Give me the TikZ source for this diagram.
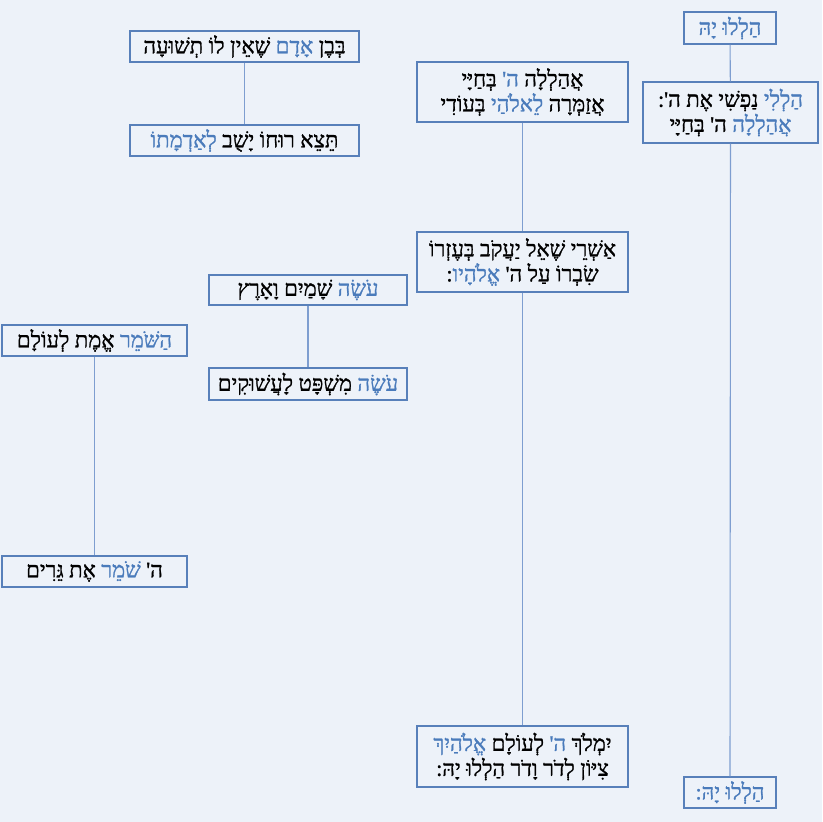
\documentclass[tikz,border=0pt]{standalone}
\usepackage{fontspec}
\newfontfamily\hebfont[Script=Hebrew, FakeBold=1.2]{Liberation Serif}
\newfontfamily\hebblue[Script=Hebrew, FakeBold=1.2, Color=4A7BBB]{Liberation Serif}
\TeXXeTstate=1
\definecolor{bgc}{RGB}{237,242,249}
\definecolor{bordc}{RGB}{88,128,186}
\definecolor{linec}{RGB}{126,158,208}
\newcommand{\hb}[1]{{\hebblue\fontsize{22}{25}\selectfont #1}}
\tikzset{
  vbox/.style={draw=bordc, line width=1.1pt, fill=bgc, inner sep=0pt, align=center,
    font=\hebfont\fontsize{22}{25}\selectfont},
  conn/.style={draw=linec, line width=1.1pt}
}
\begin{document}
\begin{tikzpicture}[x=1pt,y=-1pt]
\fill[bgc] (0,0) rectangle (822,822);
\useasboundingbox (0,0) rectangle (822,822);

\node[vbox, minimum width=92pt, minimum height=32pt] (n1) at (730,28) {\beginR\hb{הַלְלוּ יָהּ}\endR};
\node[vbox, minimum width=175pt, minimum height=61pt] (n2) at (730.5,112.5) {\beginR\hb{הַלְלִי} נַפְשִׁי אֶת ה':\endR\\\beginR\hb{אֲהַלְלָה} ה' בְּחַיָּי\endR};
\node[vbox, minimum width=92pt, minimum height=31pt] (n12) at (730,792.5) {\beginR\hb{הַלְלוּ יָהּ:}\endR};

\node[vbox, minimum width=211pt, minimum height=60pt] (n3) at (522.5,92) {\beginR אֲהַלְלָה \hb{ה'} בְּחַיָּי\endR\\\beginR אֲזַמְּרָה \hb{לֵאלֹהַי} בְּעוֹדִי\endR};
\node[vbox, minimum width=211pt, minimum height=60pt] (n4) at (522.5,262) {\beginR אַשְׁרֵי שֶׁאֵל יַעֲקֹב בְּעֶזְרוֹ\endR\\\beginR שִׂבְרוֹ עַל ה' \hb{אֱלֹהָיו}:\endR};
\node[vbox, minimum width=211pt, minimum height=61pt] (n11) at (522.5,756.5) {\beginR יִמְלֹךְ \hb{ה'} לְעוֹלָם \hb{אֱלֹהַיִךְ}\endR\\\beginR צִיּוֹן לְדֹר וָדֹר הַלְלוּ יָהּ:\endR};

\node[vbox, minimum width=229pt, minimum height=31pt] (n5) at (244.5,46.5) {\beginR בְּבֶן \hb{אָדָם} שֶׁאֵין לוֹ תְשׁוּעָה\endR};
\node[vbox, minimum width=229pt, minimum height=31pt] (n6) at (244.5,140.5) {\beginR תֵּצֵא רוּחוֹ יָשֻׁב \hb{לְאַדְמָתוֹ}\endR};

\node[vbox, minimum width=198pt, minimum height=30pt] (n7) at (308,290) {\beginR\hb{עֹשֶׂה} שָׁמַיִם וָאָרֶץ\endR};
\node[vbox, minimum width=198pt, minimum height=32pt] (n8) at (308,384) {\beginR\hb{עֹשֶׂה} מִשְׁפָּט לָעֲשׁוּקִים\endR};

\node[vbox, minimum width=185pt, minimum height=31pt] (n9) at (94.5,340.5) {\beginR\hb{הַשֹּׁמֵר} אֱמֶת לְעוֹלָם\endR};
\node[vbox, minimum width=185pt, minimum height=31pt] (n10) at (94.5,571.5) {\beginR ה' \hb{שֹׁמֵר} אֶת גֵּרִים\endR};

\draw[conn] (n1) -- (n2);
\draw[conn] (n2) -- (n12);
\draw[conn] (n3) -- (n4);
\draw[conn] (n4) -- (n11);
\draw[conn] (n5) -- (n6);
\draw[conn] (n7) -- (n8);
\draw[conn] (n9) -- (n10);
\end{tikzpicture}
\end{document}
